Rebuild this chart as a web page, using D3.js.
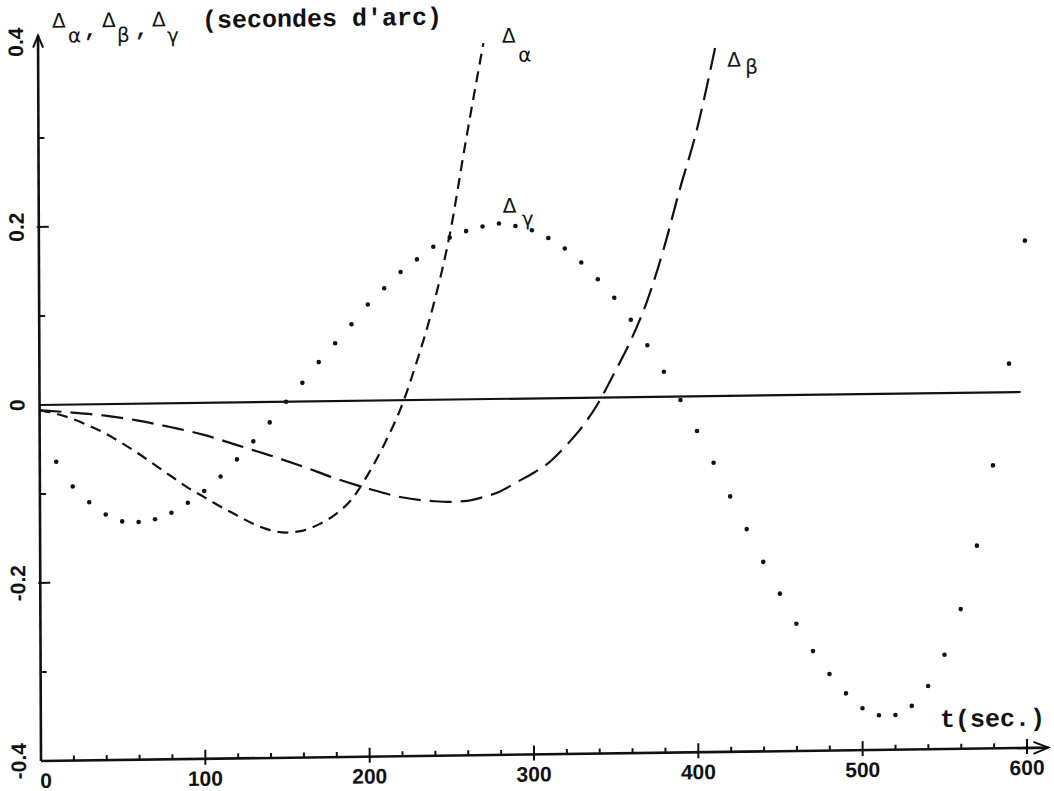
<!DOCTYPE html>
<html>
<head>
<meta charset="utf-8">
<script src="https://cdn.jsdelivr.net/npm/d3@7"></script>
<style>
  body { margin: 0; background: #fff; }
</style>
</head>
<body>
<script>
const W = 1054
const H = 791

// Δα : tirets courts
const alphaT = [0, 10, 20, 30, 40, 50, 60, 70, 80, 90, 100, 110, 120, 130, 140, 150, 160, 170, 180, 190, 200, 210, 220, 230, 240, 250, 260, 271]
const alphaV = [-0.006, -0.010, -0.016, -0.024, -0.033, -0.044, -0.056, -0.069, -0.082, -0.095, -0.106, -0.117, -0.127, -0.137, -0.144, -0.147, -0.145, -0.138, -0.127, -0.110, -0.082, -0.048, -0.008, 0.045, 0.107, 0.185, 0.29, 0.40]

// Δβ : tirets longs
const betaT = [0, 20, 40, 60, 80, 100, 120, 140, 160, 180, 200, 220, 240, 250, 260, 270, 280, 290, 300, 310, 320, 330, 340, 350, 360, 370, 380, 390, 400, 413]
const betaV = [-0.006, -0.009, -0.013, -0.019, -0.027, -0.036, -0.048, -0.060, -0.073, -0.087, -0.099, -0.109, -0.114, -0.115, -0.114, -0.110, -0.104, -0.094, -0.084, -0.072, -0.054, -0.033, -0.006, 0.028, 0.064, 0.108, 0.165, 0.232, 0.295, 0.40]

// Δγ : points toutes les 10 s
const gammaT = [10, 20, 30, 40, 50, 60, 70, 80, 90, 100, 110, 120, 130, 140, 150,
  160, 170, 180, 190, 200, 210, 220, 230, 240, 250, 260, 270, 280, 290, 300,
  310, 320, 330, 340, 350, 360, 370, 380, 390, 400, 410, 420, 430, 440, 450,
  460, 470, 480, 490, 500, 510, 520, 530, 540, 550, 560, 570, 580, 590, 600]
const gammaV = [-0.064, -0.092, -0.110, -0.124, -0.132, -0.133, -0.130, -0.123, -0.112, -0.099, -0.083, -0.064, -0.044, -0.023, 0.000,
  0.021, 0.044, 0.065, 0.086, 0.108, 0.126, 0.144, 0.158, 0.172, 0.182, 0.189, 0.194, 0.197, 0.194, 0.189,
  0.180, 0.168, 0.152, 0.133, 0.112, 0.087, 0.058, 0.028, -0.004, -0.039, -0.075, -0.113, -0.150, -0.187, -0.223,
  -0.257, -0.288, -0.314, -0.336, -0.353, -0.361, -0.361, -0.351, -0.329, -0.294, -0.243, -0.172, -0.082, 0.032, 0.170]

// axes
const xTicks = [0, 100, 200, 300, 400, 500, 600]
const xMinor = [20, 40, 60, 80, 120, 140, 160, 180, 220, 240, 260, 280, 320, 340, 360, 380, 420, 440, 460, 480, 520, 540, 560, 580]
const yTicks = [-0.4, -0.2, 0, 0.2, 0.4]
const yMajor = [-0.2, 0.2]
const yMinor = [-0.3, -0.1, 0.1, 0.3]
const zeroLine = [0, 597]

const x = d3.scaleLinear().domain([0, 600]).range([41, 1027])
const y = d3.scaleLinear().domain([-0.4, 0.4]).range([761, 49])

const svg = d3.select('body').append('svg')
  .attr('width', W)
  .attr('height', H)

// le document scanné est légèrement de travers
const skewA = 0.0041
const skewB = -0.01325
const px = x(0)
const py = y(-0.4)
const g = svg.append('g')
  .attr('transform', `matrix(1,${skewB},${skewA},1,${-skewA * py},${-skewB * px})`)

const ink = '#111'
const x0 = x(0)
const yb = y(-0.4)
const yTop = y(0.415)
const xEnd = x(613)

// axe vertical + flèche
g.append('line')
  .attr('x1', x0).attr('x2', x0)
  .attr('y1', yb).attr('y2', yTop)
  .attr('stroke', ink).attr('stroke-width', 2.6)
g.append('path')
  .attr('d', `M${x0 - 5},${yTop + 12}L${x0},${yTop}L${x0 + 5},${yTop + 12}`)
  .attr('fill', 'none').attr('stroke', ink).attr('stroke-width', 2)

// axe horizontal + flèche
g.append('line')
  .attr('x1', x0).attr('x2', xEnd)
  .attr('y1', yb).attr('y2', yb)
  .attr('stroke', ink).attr('stroke-width', 2.6)
g.append('path')
  .attr('d', `M${xEnd - 15},${yb - 6}L${xEnd},${yb}L${xEnd - 15},${yb + 6}`)
  .attr('fill', 'none').attr('stroke', ink).attr('stroke-width', 2)

// graduations x
g.selectAll('line.xmaj')
  .data(xTicks.filter((d) => d > 0))
  .join('line')
  .attr('class', 'xmaj')
  .attr('x1', (d) => x(d)).attr('x2', (d) => x(d))
  .attr('y1', yb - 9).attr('y2', yb + 6)
  .attr('stroke', ink).attr('stroke-width', 2)
g.selectAll('line.xmin')
  .data(xMinor)
  .join('line')
  .attr('class', 'xmin')
  .attr('x1', (d) => x(d)).attr('x2', (d) => x(d))
  .attr('y1', yb - 5).attr('y2', yb)
  .attr('stroke', ink).attr('stroke-width', 2)

// graduations y
g.selectAll('line.ymaj')
  .data(yMajor)
  .join('line')
  .attr('class', 'ymaj')
  .attr('x1', x0 - 2).attr('x2', x0 + 10)
  .attr('y1', (d) => y(d)).attr('y2', (d) => y(d))
  .attr('stroke', ink).attr('stroke-width', 2)
g.selectAll('line.ymin')
  .data(yMinor)
  .join('line')
  .attr('class', 'ymin')
  .attr('x1', x0).attr('x2', x0 + 6)
  .attr('y1', (d) => y(d)).attr('y2', (d) => y(d))
  .attr('stroke', ink).attr('stroke-width', 2)

// libellés
const numFont = '"Liberation Sans", Arial, sans-serif'
g.selectAll('text.xlab')
  .data(xTicks)
  .join('text')
  .attr('class', 'xlab')
  .attr('x', (d) => x(d) + (d === 0 ? 5 : 0))
  .attr('y', 788)
  .attr('text-anchor', 'middle')
  .attr('font-family', numFont)
  .attr('font-weight', 'bold')
  .attr('font-size', 21)
  .attr('fill', ink)
  .text((d) => d)

g.selectAll('text.ylab')
  .data(yTicks)
  .join('text')
  .attr('class', 'ylab')
  .attr('transform', (d) => `translate(26,${y(d) + (d === 0.4 ? -7 : 0)}) rotate(-90)`)
  .attr('text-anchor', 'middle')
  .attr('font-family', numFont)
  .attr('font-weight', 'bold')
  .attr('font-size', 21)
  .attr('fill', ink)
  .text((d) => (d === 0 ? '0' : d < 0 ? '-' + Math.abs(d) : String(d)))

// ligne du zéro
g.append('line')
  .attr('x1', x(zeroLine[0])).attr('x2', x(zeroLine[1]))
  .attr('y1', y(0)).attr('y2', y(0))
  .attr('stroke', ink).attr('stroke-width', 2.2)

// courbes
const line = d3.line()
  .x((d) => x(d[0]))
  .y((d) => y(d[1]))
  .curve(d3.curveMonotoneX)

g.append('path')
  .datum(alphaT.map((t, i) => [t, alphaV[i]]))
  .attr('d', line)
  .attr('fill', 'none')
  .attr('stroke', ink)
  .attr('stroke-width', 2.2)
  .attr('stroke-dasharray', '11 7')

g.append('path')
  .datum(betaT.map((t, i) => [t, betaV[i]]))
  .attr('d', line)
  .attr('fill', 'none')
  .attr('stroke', ink)
  .attr('stroke-width', 2.2)
  .attr('stroke-dasharray', '22 9')

g.selectAll('circle.gamma')
  .data(gammaT.map((t, i) => [t, gammaV[i]]))
  .join('circle')
  .attr('class', 'gamma')
  .attr('cx', (d) => x(d[0]))
  .attr('cy', (d) => y(d[1]))
  .attr('r', 2.3)
  .attr('fill', ink)

// titres
const greek = '"DejaVu Sans", sans-serif'
const mono = '"Liberation Mono", "DejaVu Sans Mono", monospace'

function delta(gx, gy, sub, sx, sy) {
  g.append('text')
    .attr('x', gx).attr('y', gy)
    .attr('font-family', greek).attr('font-size', 20).attr('fill', ink)
    .text('Δ')
  g.append('text')
    .attr('x', sx).attr('y', sy)
    .attr('font-family', greek).attr('font-size', 20).attr('fill', ink)
    .text(sub)
}

// titre de l'axe vertical
delta(55, 28, 'α', 71, 43)
delta(105, 28, 'β', 120, 43)
delta(155, 28, 'γ', 170, 44)
g.selectAll('text.comma')
  .data([87, 138])
  .join('text')
  .attr('class', 'comma')
  .attr('x', (d) => d).attr('y', 37)
  .attr('font-family', mono).attr('font-weight', 'bold').attr('font-size', 22).attr('fill', ink)
  .text(',')
g.append('text')
  .attr('x', 205).attr('y', 30)
  .attr('font-family', mono).attr('font-weight', 'bold').attr('font-size', 25).attr('fill', ink)
  .text("(secondes d'arc)")

// étiquettes des courbes
delta(505, 49, 'α', 521, 68)
delta(730, 76, 'β', 748, 83)
delta(505, 219, 'γ', 524, 232)

// titre de l'axe horizontal
g.append('text')
  .attr('x', 940).attr('y', 739)
  .attr('font-family', mono).attr('font-weight', 'bold').attr('font-size', 25).attr('fill', ink)
  .text('t(sec.)')
</script>
</body>
</html>
